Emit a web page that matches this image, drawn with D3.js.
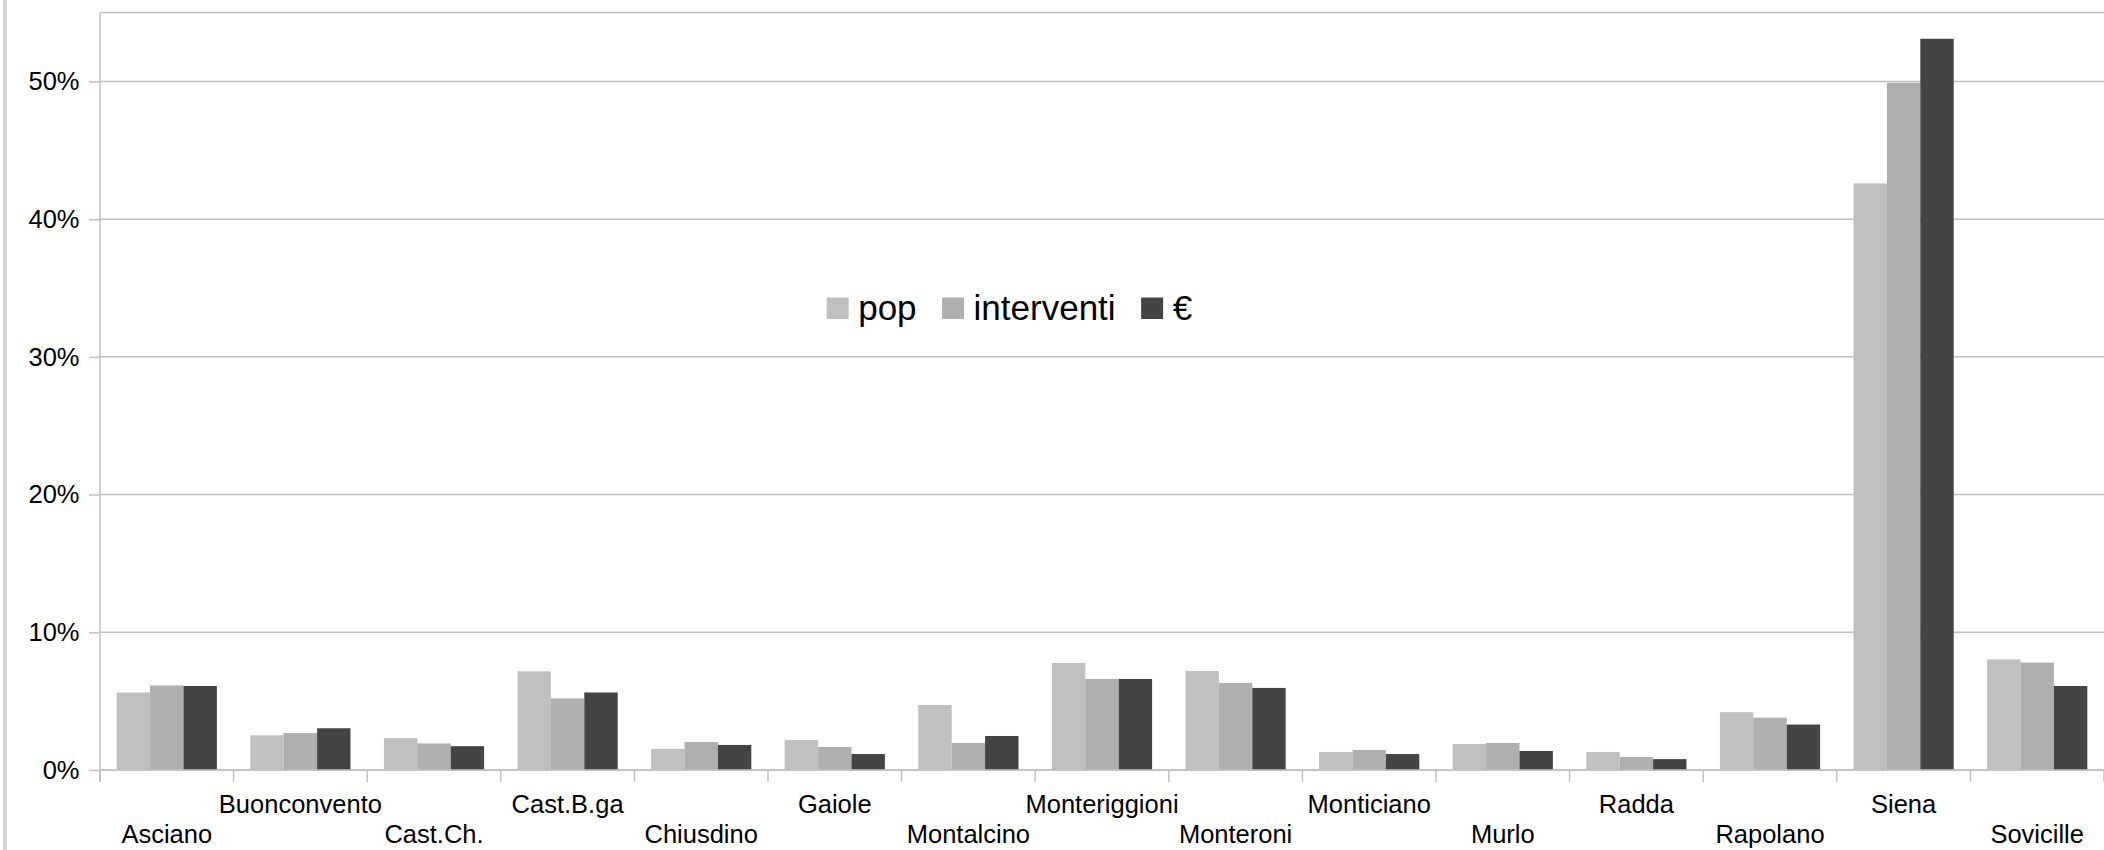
<!DOCTYPE html>
<html>
<head>
<meta charset="utf-8">
<script src="https://cdn.jsdelivr.net/npm/d3@7"></script>
<style>
  html, body { margin: 0; padding: 0; background: #fff; }
  svg { display: block; }
</style>
</head>
<body>
<svg id="chart" width="2104" height="850"></svg>
<script>
const categories = ["Asciano","Buonconvento","Cast.Ch.","Cast.B.ga","Chiusdino","Gaiole","Montalcino","Monteriggioni","Monteroni","Monticiano","Murlo","Radda","Rapolano","Siena","Sovicille"];
const seriesNames = ["pop","interventi","€"];
const popValues = [5.63, 2.52, 2.32, 7.17, 1.53, 2.18, 4.72, 7.77, 7.19, 1.31, 1.89, 1.31, 4.2, 42.6, 8.03];
const interventiValues = [6.14, 2.68, 1.93, 5.2, 2.03, 1.67, 1.96, 6.61, 6.32, 1.45, 1.96, 0.94, 3.8, 49.9, 7.8];
const euroValues = [6.1, 3.03, 1.73, 5.63, 1.82, 1.16, 2.47, 6.61, 5.96, 1.16, 1.38, 0.79, 3.3, 53.1, 6.1];
const yTicks = [0, 10, 20, 30, 40, 50];
const yMax = 55;

(function () {
const seriesValues = [popValues, interventiValues, euroValues];
const colors = ["#c0c0c0", "#afafaf", "#444444"];
const gridColor = "#c0c0c0";
const font = "'Liberation Sans', Arial, sans-serif";

const svg = d3.select("#chart");
const mLeft = 100, mRight = 2104, mTop = 12.6, mBottom = 770;

const x0 = d3.scaleBand().domain(categories).range([mLeft, mRight]);
const bw = x0.bandwidth();
const x1 = d3.scaleBand().domain(seriesNames).range([bw * 0.125, bw * 0.875]);
const y = d3.scaleLinear().domain([0, yMax]).range([mBottom, mTop]);

// left edge smudge (frame shadow)
svg.append("rect").attr("x", 3).attr("y", 0).attr("width", 4).attr("height", 850).attr("fill", "#d6d6d6");

// gridlines
svg.append("g").selectAll("line").data(yTicks.concat([yMax])).join("line")
  .attr("x1", mLeft).attr("x2", mRight)
  .attr("y1", d => y(d)).attr("y2", d => y(d))
  .attr("stroke", gridColor).attr("stroke-width", 1.5);

// y axis
const yAxis = svg.append("g").attr("transform", `translate(${mLeft},0)`)
  .call(d3.axisLeft(y).tickValues(yTicks).tickFormat(d => d + "%").tickSize(11).tickPadding(9.5));
yAxis.select(".domain").attr("stroke", gridColor).attr("stroke-width", 1.5)
  .attr("d", `M0,${mTop}V${mBottom + 12}`);
yAxis.selectAll(".tick line").attr("stroke", gridColor).attr("stroke-width", 1.5);
yAxis.selectAll(".tick text").attr("font-family", font).attr("font-size", "25.5px").attr("fill", "#000");

// bars
const groups = svg.append("g").selectAll("g").data(categories).join("g")
  .attr("transform", d => `translate(${x0(d)},0)`);
groups.selectAll("rect").data((d, i) => seriesNames.map((s, k) => ({ s, k, v: seriesValues[k][i] }))).join("rect")
  .attr("x", d => x1(d.s))
  .attr("width", x1.bandwidth())
  .attr("y", d => y(d.v))
  .attr("height", d => y(0) - y(d.v))
  .attr("fill", d => colors[d.k]);

// x axis ticks at band boundaries
const boundaries = categories.map(c => x0(c)).concat([mRight]);
svg.append("g").selectAll("line").data(boundaries).join("line")
  .attr("x1", d => d).attr("x2", d => d)
  .attr("y1", mBottom).attr("y2", mBottom + 12)
  .attr("stroke", gridColor).attr("stroke-width", 1.5);
svg.append("line").attr("x1", mLeft).attr("x2", mRight).attr("y1", mBottom).attr("y2", mBottom)
  .attr("stroke", gridColor).attr("stroke-width", 1.5);

// x labels, staggered
svg.append("g").selectAll("text").data(categories).join("text")
  .attr("x", d => x0(d) + bw / 2)
  .attr("y", (d, i) => i % 2 === 0 ? 842.7 : 812.7)
  .attr("text-anchor", "middle")
  .attr("font-family", font).attr("font-size", "25.5px").attr("fill", "#000")
  .text(d => d);

// legend
const legend = svg.append("g");
let lx = 826.7;
seriesNames.forEach((s, k) => {
  legend.append("rect").attr("x", lx).attr("y", 297.5).attr("width", 22).attr("height", 21.5).attr("fill", colors[k]);
  const t = legend.append("text").attr("x", lx + 31.5).attr("y", 320)
    .attr("font-family", font).attr("font-size", "35px").attr("fill", "#000").text(s);
  lx = lx + 31.5 + t.node().getComputedTextLength() + 25.5;
});
})();
</script>
</body>
</html>
